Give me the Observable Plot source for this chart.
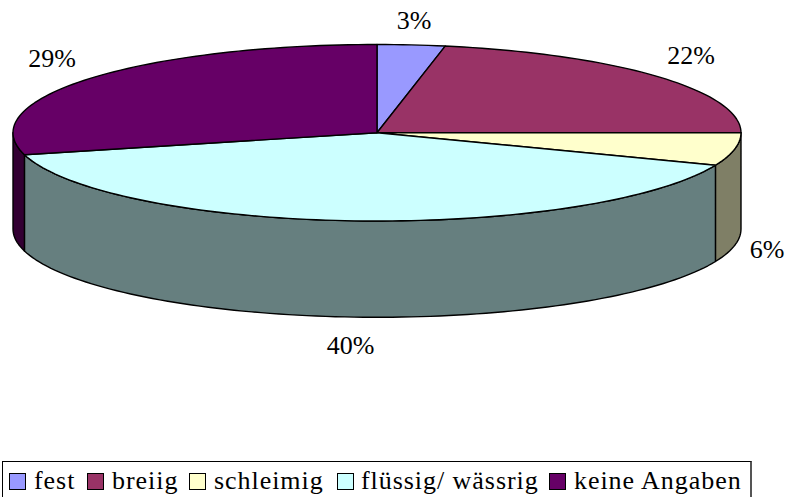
<!DOCTYPE html>
<html>
<head>
<meta charset="utf-8">
<script src="https://cdn.jsdelivr.net/npm/d3@7"></script>
<script src="https://cdn.jsdelivr.net/npm/@observablehq/plot@0.6"></script>
<style>
html,body{margin:0;padding:0;background:#fff;width:786px;height:497px;overflow:hidden}
#chart svg{display:block}
#legend{position:absolute;left:2px;top:461px;width:747px;height:36px;border:1px solid #000;border-bottom:none;border-right:2px solid #555;
 font-family:"Liberation Serif",serif;font-size:26px;line-height:38px;color:#000;letter-spacing:.95px;white-space:nowrap;background:#fff}
#legend span.i{position:absolute;top:0}
#legend i{position:absolute;top:11px;width:15px;height:15px;border:1.5px solid #000;box-sizing:content-box}
</style>
</head>
<body>
<div id="chart"></div>
<div id="legend"></div>
<script>
const categories = ["fest", "breiig", "schleimig", "flüssig/ wässrig", "keine Angaben"];
const shares = [3, 22, 6, 40, 29];
const topColors = ["#9999FF", "#993366", "#FFFFCC", "#CCFFFF", "#660066"];
const wallColors = ["#4C4C7F", "#4C1933", "#7F7F66", "#667F7F", "#330033"];
const legendTextLeft = [31, 109, 211, 358, 571];
const legendSwatchLeft = [6, 84, 186, 334, 546];

const depth = 96 / 88; // wall height in units of the vertical radius
const rad = d => d * Math.PI / 180;
const slices = [];
let acc = 0;
shares.forEach((v, i) => {
  const a0 = acc / 100 * 360;
  acc += v;
  slices.push({name: categories[i], value: v, a0, a1: acc / 100 * 360, top: topColors[i], wall: wallColors[i]});
});
const arc = (a0, a1, drop = 0) => {
  const n = Math.max(2, Math.ceil((a1 - a0) / 1.5));
  return d3.range(n + 1).map(k => {
    const a = rad(a0 + (a1 - a0) * k / n);
    return {x: Math.sin(a), y: Math.cos(a) - drop};
  });
};
const topPts = slices.flatMap(s =>
  [{x: 0, y: 0}, ...arc(s.a0, s.a1)].map(p => ({...p, name: s.name, fill: s.top})));
const wallPts = slices.flatMap(s => {
  const a0 = Math.max(s.a0, 90), a1 = Math.min(s.a1, 270);
  if (a1 <= a0) return [];
  return [...arc(a0, a1), ...arc(a0, a1, depth).reverse()].map(p => ({...p, name: s.name, fill: s.wall}));
});
const labels = slices.map(s => {
  const m = rad((s.a0 + s.a1) / 2), c = Math.cos(m), upper = c > 0;
  return {
    x: Math.sin(m) * (upper ? 1.125 : 1.095) - 0.004,
    y: upper ? c * 1.1 + 0.17 : c * 1.347 - 1.067,
    text: s.value + "%"
  };
});

const plot = Plot.plot({
  width: 786, height: 458,
  marginLeft: 12.5, marginRight: 45.5, marginTop: 44, marginBottom: 237.5,
  x: {domain: [-1, 1], axis: null},
  y: {domain: [-1, 1], axis: null},
  style: {background: "#fff", fontFamily: "'Liberation Serif', serif", overflow: "visible"},
  marks: [
    Plot.line(wallPts, {x: "x", y: "y", z: "name", fill: "fill", stroke: "#000", strokeWidth: 1.4, curve: "linear-closed"}),
    Plot.line(topPts, {x: "x", y: "y", z: "name", fill: "fill", stroke: "#000", strokeWidth: 1.4, curve: "linear-closed"}),
    Plot.text(labels, {x: "x", y: "y", text: "text", fontSize: 26, fill: "#000"})
  ]
});
document.getElementById("chart").append(plot);

const legend = document.getElementById("legend");
categories.forEach((c, i) => {
  const sw = document.createElement("i");
  sw.style.left = legendSwatchLeft[i] + "px";
  sw.style.background = topColors[i];
  legend.append(sw);
  const t = document.createElement("span");
  t.className = "i";
  t.style.left = legendTextLeft[i] + "px";
  t.textContent = c;
  legend.append(t);
});
</script>
</body>
</html>
